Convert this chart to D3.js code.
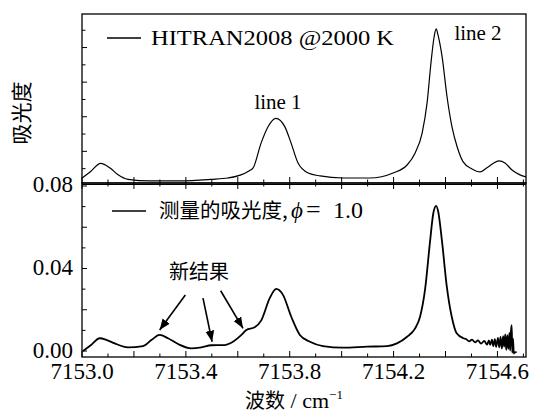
<!DOCTYPE html>
<html>
<head>
<meta charset="utf-8">
<script src="https://cdn.jsdelivr.net/npm/d3@7"></script>
<style>
  body { margin: 0; background: #fff; }
  svg { display: block; }
</style>
</head>
<body>
<div id="chart"></div>
<script>
// HITRAN2008 simulated spectrum (top panel), wavenumber / absorbance
const hitranWave = [7153.000, 7153.031, 7153.072, 7153.108, 7153.139, 7153.177, 7153.262, 7153.378,
  7153.497, 7153.562, 7153.612, 7153.643, 7153.659, 7153.690, 7153.716, 7153.747, 7153.781, 7153.805,
  7153.832, 7153.871, 7153.917, 7154.005, 7154.109, 7154.198, 7154.252, 7154.283, 7154.310, 7154.329,
  7154.344, 7154.356, 7154.364, 7154.371, 7154.387, 7154.406, 7154.425, 7154.445, 7154.468, 7154.502,
  7154.533, 7154.564, 7154.606, 7154.629, 7154.656, 7154.687, 7154.710];
const hitranAbs = [0.0046, 0.0081, 0.0131, 0.0104, 0.0064, 0.0038, 0.0029, 0.0029,
  0.0038, 0.0046, 0.0064, 0.0087, 0.0104, 0.0249, 0.0341, 0.0391, 0.0343, 0.0249,
  0.0133, 0.0075, 0.0058, 0.0046, 0.0046, 0.0075, 0.0121, 0.0191, 0.0306, 0.0480,
  0.0711, 0.0861, 0.0908, 0.0873, 0.0746, 0.0514, 0.0341, 0.0225, 0.0139, 0.0098,
  0.0081, 0.0110, 0.0145, 0.0133, 0.0092, 0.0064, 0.0052];

// measured absorbance, phi = 1.0 (bottom panel)
const measWave = [7153.004, 7153.035, 7153.068, 7153.096, 7153.126, 7153.177, 7153.235, 7153.267,
  7153.299, 7153.331, 7153.370, 7153.421, 7153.460, 7153.498, 7153.550, 7153.575, 7153.614, 7153.633,
  7153.665, 7153.691, 7153.723, 7153.748, 7153.774, 7153.806, 7153.839, 7153.878, 7153.928, 7154.005,
  7154.098, 7154.175, 7154.213, 7154.252, 7154.283, 7154.302, 7154.321, 7154.341, 7154.353, 7154.364,
  7154.372, 7154.386, 7154.405, 7154.424, 7154.443, 7154.469,
  7154.479, 7154.491, 7154.502, 7154.514, 7154.525, 7154.537, 7154.549, 7154.560, 7154.567, 7154.572,
  7154.579, 7154.584, 7154.590, 7154.595, 7154.602, 7154.607, 7154.612, 7154.617, 7154.622, 7154.626,
  7154.630, 7154.634, 7154.638, 7154.642, 7154.646, 7154.649, 7154.652, 7154.655, 7154.657, 7154.660,
  7154.663, 7154.667, 7154.674];
const measAbs = [0.0000, 0.0029, 0.0062, 0.0053, 0.0037, 0.0018, 0.0024, 0.0053,
  0.0078, 0.0062, 0.0034, 0.0013, 0.0018, 0.0028, 0.0029, 0.0040, 0.0078, 0.0102,
  0.0115, 0.0150, 0.0256, 0.0301, 0.0272, 0.0166, 0.0078, 0.0045, 0.0024, 0.0016,
  0.0021, 0.0024, 0.0037, 0.0069, 0.0110, 0.0166, 0.0296, 0.0538, 0.0668, 0.0704,
  0.0675, 0.0538, 0.0312, 0.0166, 0.0086, 0.0062,
  0.0058, 0.0047, 0.0055, 0.0042, 0.0052, 0.0036, 0.0049, 0.0031, 0.0052, 0.0030,
  0.0055, 0.0024, 0.0058, 0.0020, 0.0064, 0.0018, 0.0068, 0.0012, 0.0072, 0.0022,
  0.0080, 0.0006, 0.0077, 0.0010, 0.0088, 0.0002, 0.0095, 0.0126, -0.0008, 0.0060,
  -0.0012, -0.0006, -0.0005];

// arrows for "新结果": [wave, abs] of start and tip
const arrowStarts = [[7153.398, 0.0272], [7153.466, 0.0256], [7153.534, 0.0292]];
const arrowTips = [[7153.299, 0.0102], [7153.501, 0.0045], [7153.620, 0.0110]];

const xTickLabels = [7153.0, 7153.4, 7153.8, 7154.2, 7154.6];
const yTickLabels = [0.00, 0.04, 0.08];

const width = 533;
const height = 414;
const plotLeft = 82, plotRight = 526, plotTop = 14, plotMid = 183, plotBottom = 357;

const serif = '"Liberation Serif", "Times New Roman", serif';
const cjk = '"Noto Sans CJK SC", sans-serif';

const svg = d3
  .select('#chart')
  .append('svg')
  .attr('width', width)
  .attr('height', height);

// Scales
const x = d3.scaleLinear().domain([7153.0, 7154.71]).range([plotLeft, plotRight]);
const yTop = d3.scaleLinear().domain([0.0017, 0.0994]).range([plotMid, plotTop]);
const yBot = d3.scaleLinear().domain([-0.0029, 0.08145]).range([plotBottom, plotMid]);

// clip paths + arrow head
const defs = svg.append('defs');
defs.append('clipPath').attr('id', 'clipTop')
  .append('rect').attr('x', plotLeft).attr('y', plotTop)
  .attr('width', plotRight - plotLeft).attr('height', plotMid - plotTop);
defs.append('clipPath').attr('id', 'clipBot')
  .append('rect').attr('x', plotLeft).attr('y', plotMid)
  .attr('width', plotRight - plotLeft).attr('height', plotBottom - plotMid);
defs.append('marker')
  .attr('id', 'head')
  .attr('viewBox', '0 0 10 10')
  .attr('refX', 10)
  .attr('refY', 5)
  .attr('markerWidth', 11)
  .attr('markerHeight', 11)
  .attr('markerUnits', 'userSpaceOnUse')
  .attr('orient', 'auto')
  .append('path')
  .attr('d', 'M0,1 L10,5 L0,9 Z')
  .attr('fill', '#000');

const topData = hitranWave.map((w, i) => ({ w: w, a: hitranAbs[i] }));
const botData = measWave.map((w, i) => ({ w: w, a: measAbs[i] }));

// Curves
svg.append('path')
  .datum(topData)
  .attr('clip-path', 'url(#clipTop)')
  .attr('fill', 'none')
  .attr('stroke', '#000')
  .attr('stroke-width', 1.2)
  .attr('d', d3.line().x((d) => x(d.w)).y((d) => yTop(d.a)).curve(d3.curveMonotoneX));

svg.append('path')
  .datum(botData)
  .attr('clip-path', 'url(#clipBot)')
  .attr('fill', 'none')
  .attr('stroke', '#000')
  .attr('stroke-width', 1.8)
  .attr('stroke-linejoin', 'round')
  .attr('d', d3.line().x((d) => x(d.w)).y((d) => yBot(d.a)).curve(d3.curveMonotoneX));

// Axes (ticks inward)
const xTicks = d3.range(0, 18).map((i) => 7153.0 + i * 0.1).filter((t) => t <= 7154.71);
const isMajorX = (t) => Math.abs(Math.round(t * 5) - t * 5) < 1e-6;

function xAxisTicks(yPos, dir) {
  svg.append('g')
    .selectAll('line')
    .data(xTicks)
    .enter()
    .append('line')
    .attr('x1', (d) => x(d))
    .attr('x2', (d) => x(d))
    .attr('y1', yPos)
    .attr('y2', (d) => yPos + dir * (isMajorX(d) ? 6 : 3.5))
    .attr('stroke', '#000')
    .attr('stroke-width', 1);
}
xAxisTicks(plotBottom, -1);
xAxisTicks(plotMid, 1);
xAxisTicks(plotMid, -1);

// left ticks
svg.append('g')
  .selectAll('line')
  .data(d3.range(1, 10).map((i) => i * 0.01))
  .enter()
  .append('line')
  .attr('x1', plotLeft)
  .attr('x2', (d, i) => plotLeft + (i % 2 === 1 ? 5 : 3.5))
  .attr('y1', (d) => yTop(d))
  .attr('y2', (d) => yTop(d))
  .attr('stroke', '#000');

svg.append('g')
  .selectAll('line')
  .data(d3.range(0, 9).map((i) => i * 0.01))
  .enter()
  .append('line')
  .attr('x1', plotLeft)
  .attr('x2', (d, i) => plotLeft + (i % 2 === 0 ? 5 : 3.5))
  .attr('y1', (d) => yBot(d))
  .attr('y2', (d) => yBot(d))
  .attr('stroke', '#000');

// frames
svg.append('rect')
  .attr('x', plotLeft).attr('y', plotTop)
  .attr('width', plotRight - plotLeft).attr('height', plotMid - plotTop)
  .attr('fill', 'none').attr('stroke', '#000').attr('stroke-width', 1.3);
svg.append('rect')
  .attr('x', plotLeft).attr('y', plotMid)
  .attr('width', plotRight - plotLeft).attr('height', plotBottom - plotMid)
  .attr('fill', 'none').attr('stroke', '#000').attr('stroke-width', 1.3);
svg.append('line')
  .attr('x1', plotLeft).attr('x2', plotRight)
  .attr('y1', plotMid + 1.5).attr('y2', plotMid + 1.5)
  .attr('stroke', '#000').attr('stroke-width', 1);

// Tick labels
svg.append('g')
  .selectAll('text')
  .data(xTickLabels)
  .enter()
  .append('text')
  .attr('x', (d) => x(d))
  .attr('y', plotBottom + 22)
  .attr('text-anchor', 'middle')
  .style('font-family', serif)
  .style('font-size', '23px')
  .text((d) => d.toFixed(1));

svg.append('g')
  .selectAll('text')
  .data(yTickLabels)
  .enter()
  .append('text')
  .attr('x', plotLeft - 9)
  .attr('y', (d) => yBot(d) + 6.5)
  .attr('text-anchor', 'end')
  .style('font-family', serif)
  .style('font-size', '23px')
  .text((d) => d.toFixed(2));

// Axis titles
svg.append('text')
  .attr('transform', 'translate(29,' + 113 + ') rotate(-90)')
  .attr('text-anchor', 'middle')
  .style('font-family', cjk)
  .style('font-size', '21px')
  .text('吸光度');

const xTitle = svg.append('text')
  .attr('x', 294)
  .attr('y', 408)
  .attr('text-anchor', 'middle');
xTitle.append('tspan').style('font-family', cjk).style('font-size', '20px').text('波数');
xTitle.append('tspan').style('font-family', serif).style('font-size', '22px').text(' / cm');
xTitle.append('tspan').style('font-family', serif).style('font-size', '13px').attr('dy', -9).text('−1');

// Legends
svg.append('line')
  .attr('x1', 107).attr('x2', 141).attr('y1', 38).attr('y2', 38)
  .attr('stroke', '#000').attr('stroke-width', 1.3);
svg.append('text')
  .attr('x', 151).attr('y', 45)
  .attr('textLength', 243)
  .attr('lengthAdjust', 'spacingAndGlyphs')
  .style('font-family', serif)
  .style('font-size', '20.5px')
  .text('HITRAN2008 @2000 K');

svg.append('line')
  .attr('x1', 112).attr('x2', 146).attr('y1', 211).attr('y2', 211)
  .attr('stroke', '#000').attr('stroke-width', 1.3);
const legB = svg.append('text').attr('y', 218);
legB.append('tspan').attr('x', 159).style('font-family', cjk).style('font-size', '20.5px').text('测量的吸光度,');
legB.append('tspan').attr('x', 291).style('font-family', serif).style('font-size', '23px').style('font-style', 'italic').text('ϕ');
legB.append('tspan').attr('x', 306).style('font-family', serif).style('font-size', '26px').text('=');
legB.append('tspan').attr('x', 333).style('font-family', serif).style('font-size', '24px').text('1.0');

// Peak labels
svg.append('text')
  .attr('x', 278).attr('y', 109)
  .attr('text-anchor', 'middle')
  .style('font-family', serif).style('font-size', '21px')
  .text('line 1');
svg.append('text')
  .attr('x', 478).attr('y', 40)
  .attr('text-anchor', 'middle')
  .style('font-family', serif).style('font-size', '21px')
  .text('line 2');

// New results annotation
svg.append('text')
  .attr('x', 199).attr('y', 279)
  .attr('text-anchor', 'middle')
  .style('font-family', cjk).style('font-size', '20px')
  .text('新结果');

svg.append('g')
  .selectAll('line')
  .data(arrowStarts)
  .enter()
  .append('line')
  .attr('x1', (d) => x(d[0]))
  .attr('y1', (d) => yBot(d[1]))
  .attr('x2', (d, i) => x(arrowTips[i][0]))
  .attr('y2', (d, i) => yBot(arrowTips[i][1]))
  .attr('stroke', '#000')
  .attr('stroke-width', 1.6)
  .attr('marker-end', 'url(#head)');
</script>
</body>
</html>
